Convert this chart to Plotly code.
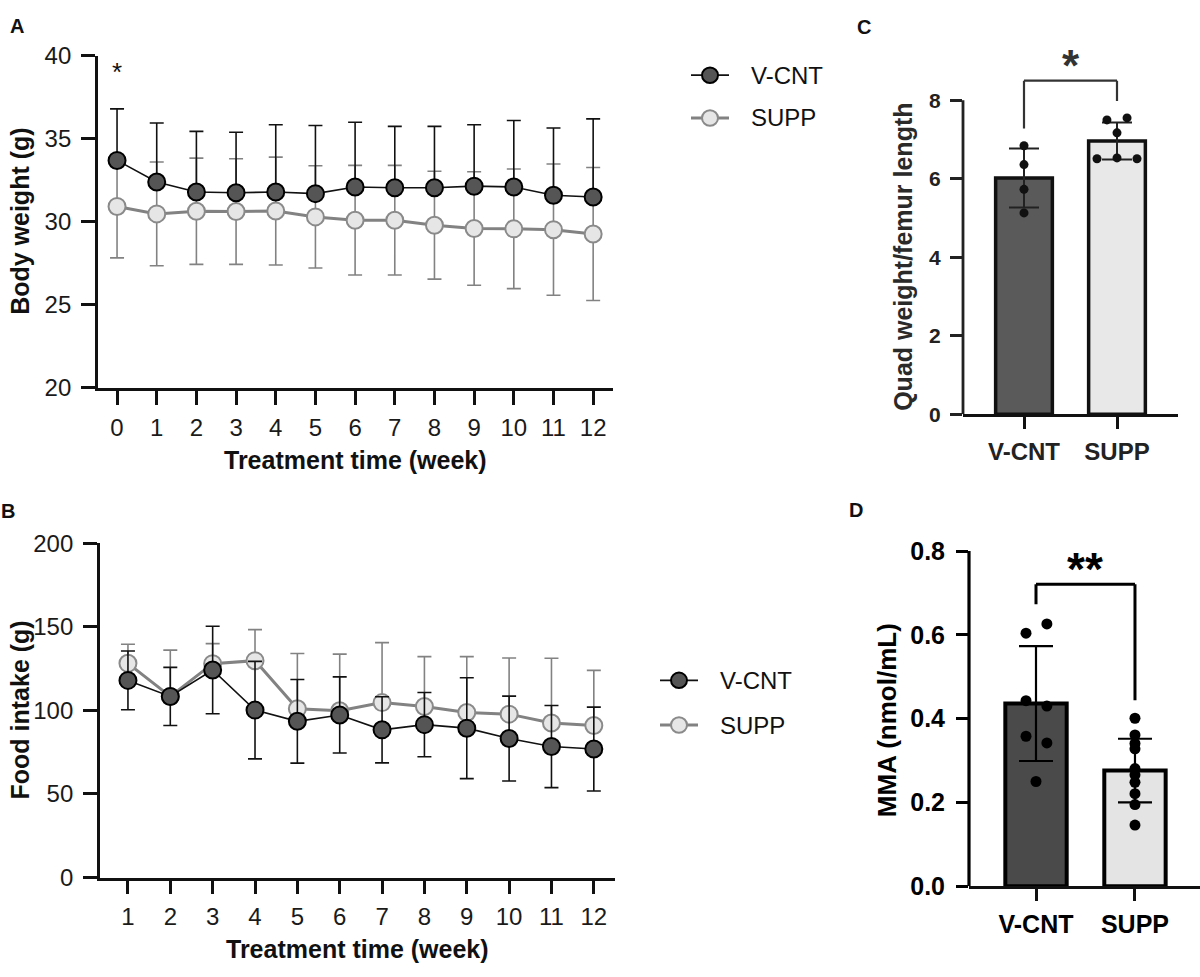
import plotly.graph_objects as go

# ---------------- data ----------------
weeks_bw = [0, 1, 2, 3, 4, 5, 6, 7, 8, 9, 10, 11, 12]
bw_vcnt = [33.7, 32.4, 31.8, 31.75, 31.8, 31.7, 32.1, 32.05, 32.05, 32.15, 32.1, 31.6, 31.5]
bw_vcnt_sd = [3.1, 3.55, 3.65, 3.65, 4.05, 4.1, 3.9, 3.7, 3.7, 3.7, 4.0, 4.05, 4.7]
bw_supp = [30.93, 30.48, 30.64, 30.62, 30.65, 30.3, 30.1, 30.1, 29.8, 29.6, 29.58, 29.53, 29.27]
bw_supp_sd = [3.1, 3.12, 3.2, 3.18, 3.25, 3.08, 3.3, 3.3, 3.25, 3.42, 3.6, 3.95, 4.0]

weeks_fi = [1, 2, 3, 4, 5, 6, 7, 8, 9, 10, 11, 12]
fi_vcnt = [118.0, 108.4, 124.2, 100.2, 93.5, 97.3, 88.4, 91.5, 89.4, 83.2, 78.4, 76.9]
fi_vcnt_sd = [17.6, 17.4, 26.2, 29.2, 25.0, 22.8, 19.8, 19.2, 30.2, 25.4, 24.6, 25.1]
fi_supp = [128.2, 108.4, 128.0, 129.8, 101.0, 99.8, 104.7, 102.4, 98.8, 97.8, 92.5, 91.0]
fi_supp_sd = [11.4, 27.7, 12.0, 18.6, 33.1, 33.9, 35.9, 29.8, 33.4, 33.6, 38.7, 33.0]

groups = ["V-CNT", "SUPP"]
quad_mean = [6.02, 6.96]
quad_sd = [0.75, 0.47]
quad_vcnt_pts = [6.84, 6.36, 5.73, 5.13]
quad_supp_pts = [7.50, 7.55, 7.17, 6.51, 6.53, 6.51]

mma_mean = [0.436, 0.276]
mma_sd = [0.137, 0.076]
mma_vcnt_pts = [0.604, 0.626, 0.443, 0.430, 0.358, 0.342, 0.250]
mma_supp_pts = [0.401, 0.361, 0.341, 0.328, 0.281, 0.266, 0.248, 0.221, 0.195, 0.146]

bw_ticks = [20, 25, 30, 35, 40]
fi_ticks = [0, 50, 100, 150, 200]
quad_ticks = [0, 2, 4, 6, 8]
mma_ticks = [0.0, 0.2, 0.4, 0.6, 0.8]

# ---------------- styling ----------------
FONT = "Liberation Sans, Arial, sans-serif"
TXT = "#1a1a1a"
DARK_FILL = "#555555"
LIGHT_FILL = "#e6e6e6"
GRAY = "#828282"
DARK_LINE = "#111111"
LIGHT_EDGE = "#8a8a8a"

# dot jitter (horizontal offsets, in category units)
quad_vcnt_dx = [0, 0, 0, 0]
quad_supp_dx = [-0.108, 0.108, 0, -0.215, 0, 0.215]
mma_vcnt_dx = [-0.101, 0.11, -0.101, 0.11, -0.101, 0.11, 0]
mma_supp_dx = [0] * len(mma_supp_pts)

W, H = 1200, 977


def px_x(p):
    return p / W


def px_y(p):
    return 1 - p / H


fig = go.Figure()

# ---------- Panel A ----------
fig.add_trace(go.Scatter(
    x=weeks_bw, y=bw_supp, name="SUPP", mode="lines+markers",
    line=dict(color=GRAY, width=3),
    marker=dict(size=17, color=LIGHT_FILL, line=dict(color=LIGHT_EDGE, width=2)),
    error_y=dict(type="data", array=bw_supp_sd, symmetric=True, color=GRAY, thickness=1.6, width=7),
    xaxis="x", yaxis="y", showlegend=False))
fig.add_trace(go.Scatter(
    x=weeks_bw, y=bw_vcnt, name="V-CNT", mode="lines+markers",
    line=dict(color=DARK_LINE, width=1.6),
    marker=dict(size=17, color=DARK_FILL, line=dict(color="#000000", width=2)),
    error_y=dict(type="data", array=bw_vcnt_sd, arrayminus=[0] * len(bw_vcnt_sd), symmetric=False,
                 color=DARK_LINE, thickness=1.6, width=7),
    xaxis="x", yaxis="y", showlegend=False))

# ---------- Panel B ----------
fig.add_trace(go.Scatter(
    x=weeks_fi, y=fi_supp, name="SUPP", mode="lines+markers",
    line=dict(color=GRAY, width=3),
    marker=dict(size=17, color=LIGHT_FILL, line=dict(color=LIGHT_EDGE, width=2)),
    error_y=dict(type="data", array=fi_supp_sd, arrayminus=[0] * len(fi_supp_sd), symmetric=False,
                 color=GRAY, thickness=1.6, width=7),
    xaxis="x2", yaxis="y2", showlegend=False))
fig.add_trace(go.Scatter(
    x=weeks_fi, y=fi_vcnt, name="V-CNT", mode="lines+markers",
    line=dict(color=DARK_LINE, width=1.6),
    marker=dict(size=17, color=DARK_FILL, line=dict(color="#000000", width=2)),
    error_y=dict(type="data", array=fi_vcnt_sd, symmetric=True, color=DARK_LINE, thickness=1.6, width=7),
    xaxis="x2", yaxis="y2", showlegend=False))

# ---------- Panel C ----------
fig.add_trace(go.Bar(
    x=[0, 1], y=quad_mean, width=0.61,
    marker=dict(color=["#5a5a5a", "#e8e8e8"], line=dict(color="#111111", width=3.5)),
    error_y=dict(type="data", array=quad_sd, symmetric=True, color="#222222", thickness=2, width=15),
    xaxis="x3", yaxis="y3", showlegend=False))
fig.add_trace(go.Scatter(
    x=[0 + d for d in quad_vcnt_dx], y=quad_vcnt_pts, mode="markers",
    marker=dict(size=9, color="#111111"), xaxis="x3", yaxis="y3", showlegend=False))
fig.add_trace(go.Scatter(
    x=[1 + d for d in quad_supp_dx], y=quad_supp_pts, mode="markers",
    marker=dict(size=9, color="#111111"), xaxis="x3", yaxis="y3", showlegend=False))

# ---------- Panel D ----------
fig.add_trace(go.Bar(
    x=[0, 1], y=mma_mean, width=0.62,
    marker=dict(color=["#4a4a4a", "#e4e4e4"], line=dict(color="#000000", width=4)),
    error_y=dict(type="data", array=mma_sd, symmetric=True, color="#000000", thickness=2.2, width=17),
    xaxis="x4", yaxis="y4", showlegend=False))
fig.add_trace(go.Scatter(
    x=[0 + d for d in mma_vcnt_dx], y=mma_vcnt_pts, mode="markers",
    marker=dict(size=11, color="#000000"), xaxis="x4", yaxis="y4", showlegend=False))
fig.add_trace(go.Scatter(
    x=[1 + d for d in mma_supp_dx], y=mma_supp_pts, mode="markers",
    marker=dict(size=11, color="#000000"), xaxis="x4", yaxis="y4", showlegend=False))

# ---------- axes ----------
tickfont_reg = dict(family=FONT, size=24, color=TXT)
common = dict(showgrid=False, zeroline=False, ticks="outside", showline=True,
              linecolor="#111111", tickcolor="#111111", fixedrange=True)

fig.update_layout(
    xaxis=dict(domain=[px_x(98), px_x(613)], range=[-0.48, 12.5], tickvals=weeks_bw,
               ticklen=14, tickwidth=2.6, linewidth=2.8, tickfont=tickfont_reg,
               anchor="y", ticklabelstandoff=2, **common),
    yaxis=dict(domain=[px_y(385), px_y(43)], range=[20, 40], tickvals=bw_ticks,
               ticklen=14, tickwidth=2.6, linewidth=2.8, tickfont=tickfont_reg,
               anchor="x", ticklabelstandoff=5, **common),
    xaxis2=dict(domain=[px_x(100), px_x(615)], range=[0.34, 12.5], tickvals=weeks_fi,
                ticklen=14, tickwidth=2.6, linewidth=2.8, tickfont=tickfont_reg,
                anchor="y2", ticklabelstandoff=2, **common),
    yaxis2=dict(domain=[px_y(889), px_y(545)], range=[0, 200], tickvals=fi_ticks,
                ticklen=14, tickwidth=2.6, linewidth=2.8, tickfont=tickfont_reg,
                anchor="x2", ticklabelstandoff=5, **common),
    xaxis3=dict(domain=[px_x(963), px_x(1178)], range=[-0.656, 1.656], tickvals=[0, 1],
                ticktext=groups, ticklen=12, tickwidth=2.5, linewidth=2.8,
                tickfont=dict(family=FONT, size=24, color="#222222", weight="bold"),
                anchor="y3", ticklabelstandoff=2, **common),
    yaxis3=dict(domain=[px_y(412), px_y(8)], range=[0, 10], tickvals=quad_ticks,
                ticklen=12, tickwidth=2.5, tickfont=dict(family=FONT, size=21, color="#222222", weight="bold"),
                anchor="x3", ticklabelstandoff=5,
                showgrid=False, zeroline=False, ticks="outside", showline=False,
                tickcolor="#222222", fixedrange=True),
    xaxis4=dict(domain=[px_x(969), 1.0], range=[-0.677, 1.657], tickvals=[0, 1],
                ticktext=groups, ticklen=12, tickwidth=3, linewidth=3.2,
                tickfont=dict(family=FONT, size=25, color="#000000", weight="bold"),
                anchor="y4", ticklabelstandoff=2, **common),
    yaxis4=dict(domain=[px_y(898), px_y(527)], range=[0, 0.86], tickvals=mma_ticks,
                tickformat=".1f", ticklen=12, tickwidth=3,
                tickfont=dict(family=FONT, size=25, color="#000000", weight="bold"),
                anchor="x4", ticklabelstandoff=6,
                showgrid=False, zeroline=False, ticks="outside", showline=False,
                tickcolor="#000000", fixedrange=True),
)

# axis lines for C and D that stop at the top tick
shapes = [
    dict(type="line", xref="x3 domain", yref="y3", x0=0, x1=0, y0=0, y1=8,
         line=dict(color="#222222", width=2.8)),
    dict(type="line", xref="x4 domain", yref="y4", x0=0, x1=0, y0=0, y1=0.8,
         line=dict(color="#000000", width=3.2)),
    # significance brackets
    dict(type="line", xref="x3", yref="y3", x0=0, x1=0, y0=7.28, y1=8.5, line=dict(color="#333333", width=2.2)),
    dict(type="line", xref="x3", yref="y3", x0=0, x1=1, y0=8.5, y1=8.5, line=dict(color="#333333", width=2.2)),
    dict(type="line", xref="x3", yref="y3", x0=1, x1=1, y0=8.5, y1=7.98, line=dict(color="#333333", width=2.2)),
    dict(type="line", xref="x4", yref="y4", x0=0, x1=0, y0=0.673, y1=0.721, line=dict(color="#000000", width=3)),
    dict(type="line", xref="x4", yref="y4", x0=0, x1=1, y0=0.721, y1=0.721, line=dict(color="#000000", width=3)),
    dict(type="line", xref="x4", yref="y4", x0=1, x1=1, y0=0.721, y1=0.444, line=dict(color="#000000", width=3)),
]


def ann(text, x, y, font, angle=0, xref="paper", yref="paper", xanchor="center"):
    return dict(text=text, x=x, y=y, xref=xref, yref=yref, showarrow=False, textangle=angle,
                xanchor=xanchor, yanchor="middle", font=font)


bold25 = dict(family=FONT, size=25, color="#111111", weight="bold")
letter = dict(family=FONT, size=20, color="#111111", weight="bold")
legend_font = dict(family=FONT, size=24, color="#111111")
annotations = [
    # panel letters
    ann("A", px_x(17), px_y(12), letter),
    ann("B", px_x(8), px_y(512), letter),
    ann("C", px_x(864), px_y(13), letter),
    ann("D", px_x(856), px_y(511), letter),
    # axis titles
    ann("Body weight (g)", px_x(20), px_y(214), bold25, -90),
    ann("Treatment time (week)", px_x(355), px_y(459), bold25),
    ann("Food intake (g)", px_x(20), px_y(717), bold25, -90),
    ann("Treatment time (week)", px_x(357), px_y(963), bold25),
    ann("Quad weight/femur length", px_x(903), px_y(250),
        dict(family=FONT, size=25, color="#2a2a2a", weight="bold"), -90),
    ann("MMA (nmol/mL)", px_x(887), px_y(727),
        dict(family=FONT, size=26, color="#000000", weight="bold"), -90),
    # significance marks
    ann("*", 0, 39.0, dict(family=FONT, size=26, color="#111111"), xref="x", yref="y"),
    ann("*", 0.5, 8.89, dict(family=FONT, size=44, color="#333333", weight="bold"), xref="x3", yref="y3"),
    ann("**", 0.5, 0.756, dict(family=FONT, size=46, color="#000000", weight="bold"), xref="x4", yref="y4"),
]

# ---------- legends (key glyph: line + circle + label) ----------
legend_rows = [
    # (marker centre x, centre y, text x, label, style)
    (710, 63, 749, "V-CNT", "dark"),
    (710, 107, 749, "SUPP", "light"),
    (679, 686, 718, "V-CNT", "dark"),
    (679, 732, 718, "SUPP", "light"),
]
for cx, cy, tx, label, style in legend_rows:
    if style == "dark":
        lcol, lw, fill, edge = DARK_LINE, 1.8, DARK_FILL, "#000000"
    else:
        lcol, lw, fill, edge = GRAY, 3, LIGHT_FILL, LIGHT_EDGE
    shapes.append(dict(type="line", xref="paper", yref="paper",
                       x0=px_x(cx - 19), x1=px_x(cx + 19), y0=px_y(cy), y1=px_y(cy),
                       line=dict(color=lcol, width=lw)))
    r = 8
    shapes.append(dict(type="circle", xref="paper", yref="paper",
                       x0=px_x(cx - r), x1=px_x(cx + r), y0=px_y(cy + r), y1=px_y(cy - r),
                       fillcolor=fill, line=dict(color=edge, width=2)))
    annotations.append(ann(label, px_x(tx), px_y(cy), legend_font, xanchor="left"))

fig.update_layout(
    width=W, height=H, autosize=False,
    margin=dict(l=0, r=0, t=0, b=0),
    paper_bgcolor="white", plot_bgcolor="white",
    font=dict(family=FONT, color=TXT),
    shapes=shapes, annotations=annotations,
    showlegend=False,
)

fig.write_html("out.html")
